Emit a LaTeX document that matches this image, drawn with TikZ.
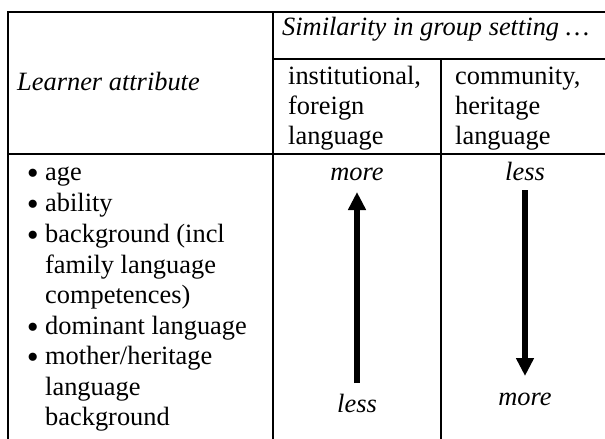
\documentclass[tikz,border=0pt]{standalone}
\usepackage{fontspec}
\setmainfont{Liberation Serif}
\usetikzlibrary{arrows.meta}
\begin{document}
\begin{tikzpicture}[x=1pt,y=-1pt,
  rule/.style={line width=2pt},
  txt/.style={anchor=base west,inner sep=0pt,font=\fontsize{26.4}{30.6}\selectfont},
  bul/.style={anchor=base west,inner sep=0pt,font=\fontsize{34}{34}\selectfont},
  ittxt/.style={txt,font=\fontsize{26.4}{30.6}\selectfont\itshape},
  lbl/.style={anchor=base,inner sep=0pt,font=\fontsize{26.4}{30.6}\selectfont\itshape},
  bigarrow/.style={line width=6pt,-{Triangle[length=18pt,width=17pt]}}]
\useasboundingbox (0,0) rectangle (605,439);
% table rules
\coordinate (tl) at (8,12);
\coordinate (bl) at (8,439);
\coordinate (tr) at (605,12);
\coordinate (c1t) at (273,12);
\coordinate (c1b) at (273,439);
\coordinate (s1) at (273,59);
\coordinate (s2) at (605,59);
\coordinate (c2t) at (441,59);
\coordinate (c2b) at (441,439);
\coordinate (h1) at (8,154);
\coordinate (h2) at (605,154);
\draw[rule] (bl) -- (tl) -- (tr);
\draw[rule] (c1t) -- (c1b);
\draw[rule] (s1) -- (s2);
\draw[rule] (c2t) -- (c2b);
\draw[rule] (h1) -- (h2);
% header
\node[ittxt] (sim) at (282,35) {Similarity in group setting …};
\node[ittxt] (learner) at (17,90) {Learner attribute};
\node[txt] (inst1) at (288,84) {institutional,};
\node[txt] (inst2) at (288,114) {foreign};
\node[txt] (inst3) at (288,144) {language};
\node[txt] (comm1) at (455,84) {community,};
\node[txt] (comm2) at (455,114) {heritage};
\node[txt] (comm3) at (455,144) {language};
% attributes
\node[bul] (b1) at (26.8,184) {•};
\node[txt] (a1) at (45,180) {age};
\node[bul] (b2) at (26.8,215) {•};
\node[txt] (a2) at (45,211) {ability};
\node[bul] (b3) at (26.8,246) {•};
\node[txt] (a3) at (45,242) {background (incl};
\node[txt] (a3b) at (45,273) {family language};
\node[txt] (a3c) at (45,303) {competences)};
\node[bul] (b4) at (26.8,338) {•};
\node[txt] (a4) at (45,334) {dominant language};
\node[bul] (b5) at (26.8,368) {•};
\node[txt] (a5) at (45,364) {mother/heritage};
\node[txt] (a5b) at (45,395) {language};
\node[txt] (a5c) at (45,425) {background};
% arrows
\node[lbl] (moreL) at (357,180) {more};
\node[lbl] (lessL) at (357,412) {less};
\node[lbl] (lessR) at (525,180) {less};
\node[lbl] (moreR) at (525,405) {more};
\coordinate (la0) at (357,383);
\coordinate (la1) at (357,192);
\coordinate (ra0) at (525,190);
\coordinate (ra1) at (525,376);
\draw[bigarrow] (la0) -- (la1);
\draw[bigarrow] (ra0) -- (ra1);
\end{tikzpicture}
\end{document}
